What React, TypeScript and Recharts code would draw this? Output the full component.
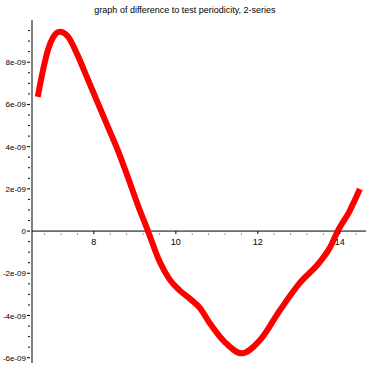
import React from "react";
import { ComposedChart, Line, XAxis, YAxis, ReferenceLine, Scatter } from "recharts";

const xValues = [6.63, 6.76, 6.88, 7.0, 7.17, 7.37, 7.61, 7.85, 8.1, 8.34, 8.59, 8.83, 9.07, 9.32, 9.61, 9.85, 10.1, 10.34, 10.59, 10.83, 11.2, 11.61, 12.05, 12.54, 13.02, 13.51, 13.76, 13.95, 14.24, 14.49];
const yValues = [6.36, 7.64, 8.59, 9.16, 9.44, 9.21, 8.3, 7.2, 6.05, 4.95, 3.8, 2.55, 1.25, 0, -1.47, -2.3, -2.82, -3.2, -3.65, -4.37, -5.27, -5.79, -5.17, -3.75, -2.47, -1.47, -0.78, 0, 0.95, 1.99].map((v) => v * 1e-9);

const xMajorTicks = [8, 10, 12, 14];
const xMinorTicks = [6.8, 7.2, 7.6, 8.4, 8.8, 9.2, 9.6, 10.4, 10.8, 11.2, 11.6, 12.4, 12.8, 13.2, 13.6, 14.4];
const yTicks = [-6, -5.5, -5, -4.5, -4, -3.5, -3, -2.5, -2, -1.5, -1, -0.5, 0, 0.5, 1, 1.5, 2, 2.5, 3, 3.5, 4, 4.5, 5, 5.5, 6, 6.5, 7, 7.5, 8, 8.5, 9, 9.5].map((v) => v * 1e-9);
const yLabels: Record<string, string> = { "-6": "-6e-09", "-4": "-4e-09", "-2": "-2e-09", "0": "0", "2": "2e-09", "4": "4e-09", "6": "6e-09", "8": "8e-09" };

const title = "graph of difference to test periodicity, 2-series";

const data = xValues.map((x, i) => ({ x, y: yValues[i] }));
const xTickData = [
  ...xMajorTicks.map((x) => ({ x, y: 0, major: true })),
  ...xMinorTicks.map((x) => ({ x, y: 0, major: false })),
];

const FONT = "'Liberation Sans', Arial, sans-serif";

const YTick = (props: any) => {
  const { x, y, payload } = props;
  const key = String(Math.round(payload.value * 1e9 * 10) / 10);
  const label = yLabels[key];
  const major = label !== undefined;
  return (
    <g>
      <line x1={x + (major ? 0 : 1)} x2={x + 3} y1={y} y2={y} stroke="#000" strokeWidth={1} />
      {major && (
        <text x={x - 1} y={y} dy={3} textAnchor="end" fontSize={8} fontFamily={FONT} fill="#000">
          {label}
        </text>
      )}
    </g>
  );
};

const XTickShape = (props: any) => {
  const { cx, cy, payload } = props;
  if (payload.major) {
    return (
      <g>
        <line x1={cx} x2={cx} y1={cy} y2={cy + 3} stroke="#000" strokeWidth={1} />
        <text x={cx} y={cy + 14} textAnchor="middle" fontSize={9} fontFamily={FONT} fill="#000">
          {String(payload.x)}
        </text>
      </g>
    );
  }
  return <line x1={cx} x2={cx} y1={cy + 2} y2={cy + 4} stroke="#999" strokeWidth={1} />;
};

export default function App() {
  return (
    <div style={{ position: "absolute", left: 0, top: 0, width: 370, height: 370, background: "#fff" }}>
      <svg width={370} height={20} style={{ position: "absolute", left: 0, top: 0 }}>
        <text x={185} y={13} textAnchor="middle" fontSize={9} fontFamily={FONT} fill="#000">
          {title}
        </text>
      </svg>
      <ComposedChart width={370} height={370} data={data} margin={{ top: 20, right: 4, bottom: 7, left: 0 }}>
        <XAxis dataKey="x" type="number" domain={[6.49, 14.64]} hide allowDataOverflow />
        <YAxis
          type="number"
          domain={[-6.25e-9, 10e-9]}
          ticks={yTicks}
          tick={<YTick />}
          tickLine={false}
          tickSize={3}
          width={32}
          axisLine={{ stroke: "#000", strokeWidth: 1 }}
          allowDataOverflow
          interval={0}
        />
        <ReferenceLine y={0} stroke="#000" strokeWidth={1} />
        <Line dataKey="y" type="monotone" stroke="#ff0000" strokeWidth={6} dot={false} isAnimationActive={false} />
        <Scatter data={xTickData} dataKey="y" shape={<XTickShape />} isAnimationActive={false} />
      </ComposedChart>
    </div>
  );
}
